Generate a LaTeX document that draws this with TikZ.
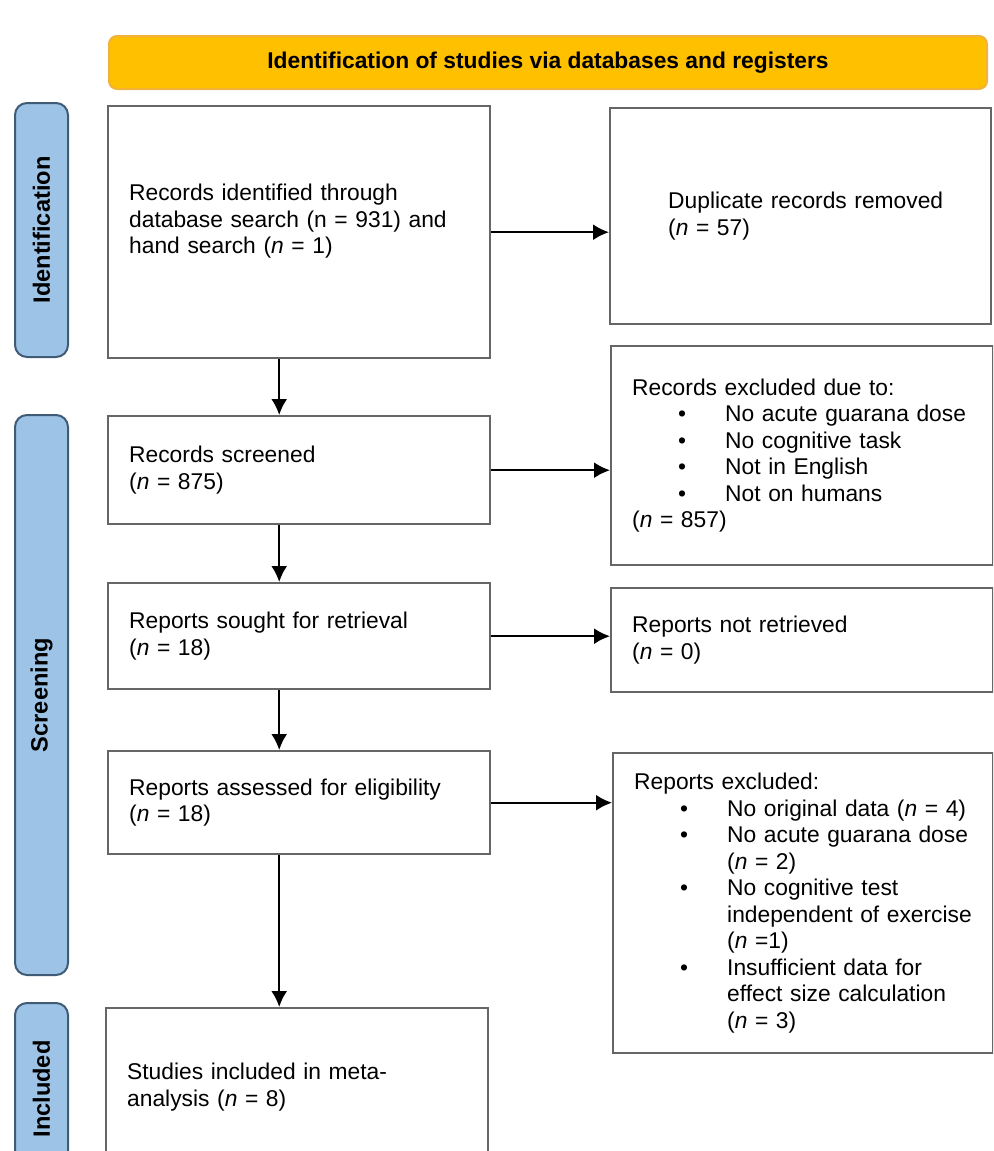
\documentclass[tikz,border=0pt]{standalone}
\usepackage{fontspec}
\setmainfont{Liberation Sans}
\usepackage{tikz}
\usetikzlibrary{arrows.meta}

\definecolor{bannerfill}{HTML}{FFC000}
\definecolor{banneredge}{HTML}{F2B33D}
\definecolor{sidefill}{HTML}{9DC3E6}
\definecolor{sideedge}{HTML}{3F5B76}
\definecolor{boxgray}{HTML}{666666}

\newcommand{\bul}{\makebox[46.5pt][l]{\hspace*{23pt}\textbullet}}
\newcommand{\ind}{\hspace*{46.5pt}}

\begin{document}
\begin{tikzpicture}[x=0.5pt,y=-0.5pt,
    font=\fontsize{11.4}{13.25}\selectfont,
    box/.style={draw=boxgray, line width=1.2pt, fill=white, anchor=north west,
      text width=170pt, inner xsep=10.5pt, inner ysep=0pt, align=left},
    phase/.style={draw=sideedge, line width=1pt, fill=sidefill, rounded corners=6pt,
      rotate=90, minimum height=26.5pt, font=\fontsize{11.8}{13.25}\selectfont\bfseries},
    banner/.style={draw=banneredge, line width=1pt, fill=bannerfill, rounded corners=4pt,
      minimum width=439pt, minimum height=26.5pt, font=\fontsize{11.4}{13.25}\selectfont\bfseries},
    arr/.style={-{Latex[length=8pt,width=8pt]}, line width=1pt}]

    \useasboundingbox (0,0) rectangle (993,1151);
    \clip (0,0) rectangle (993,1151);

    \node[banner] (head) at (548,62.5) {Identification of studies via databases and registers};

    % phases
    \node[phase, minimum width=127pt] (pid) at (41.5,230) {Identification};
    \node[phase, minimum width=280pt] (pscr) at (41.5,695) {Screening};
    \node[phase, minimum width=86pt] (pinc) at (41.5,1089) {Included};

    % main column
    \node[box, minimum height=126pt] (ident) at (107,105)
      {Records identified through\\database search (n = 931) and\\hand search (\textit{n} = 1)\\\mbox{}};
    \node[box, minimum height=54pt] (screened) at (107,415)
      {Records screened\\(\textit{n} = 875)};
    \node[box, minimum height=53pt] (sought) at (107,582)
      {Reports sought for retrieval\\(\textit{n} = 18)};
    \node[box, minimum height=51.5pt] (assessed) at (107,750)
      {Reports assessed for eligibility\\(\textit{n} = 18)};
    \node[box, minimum height=79pt] (incl) at (105,1007)
      {Studies included in meta-\\analysis (\textit{n} = 8)};

    % side column
    \node[box, minimum height=108pt, text width=169.5pt] (dup) at (609,107)
      {\hspace*{18.5pt}Duplicate records removed\\\hspace*{18.5pt}(\textit{n} = 57)};
    \node[box, minimum height=109.5pt] (excl) at (610,345)
      {Records excluded due to:\\\bul No acute guarana dose\\\bul No cognitive task\\
       \bul Not in English\\\bul Not on humans\\(\textit{n} = 857)};
    \node[box, minimum height=52pt] (notret) at (610,587)
      {Reports not retrieved\\(\textit{n} = 0)};
    \node[box, minimum height=150pt, text width=169pt] (excl2) at (612,752)
      {Reports excluded:\\\bul No original data (\textit{n} = 4)\\\bul No acute guarana dose\\
       \ind(\textit{n} = 2)\\\bul No cognitive test\\\ind independent of exercise\\
       \ind(\textit{n} =1)\\\bul Insufficient data for\\\ind effect size calculation\\
       \ind(\textit{n} = 3)};

    % edges
    \draw[arr] (ident.east) -- (ident.east -| dup.west);
    \draw[arr] (screened.east) -- (screened.east -| excl.west);
    \draw[arr] (sought.east) -- (sought.east -| notret.west);
    \draw[arr] (assessed.east) -- (assessed.east -| excl2.west);
    \draw[arr] ([xshift=-10pt]ident.south) -- ([xshift=-10pt]ident.south |- screened.north);
    \draw[arr] ([xshift=-10pt]screened.south) -- ([xshift=-10pt]screened.south |- sought.north);
    \draw[arr] ([xshift=-10pt]sought.south) -- ([xshift=-10pt]sought.south |- assessed.north);
    \draw[arr] ([xshift=-10pt]assessed.south) -- ([xshift=-10pt]assessed.south |- incl.north);

\end{tikzpicture}
\end{document}
